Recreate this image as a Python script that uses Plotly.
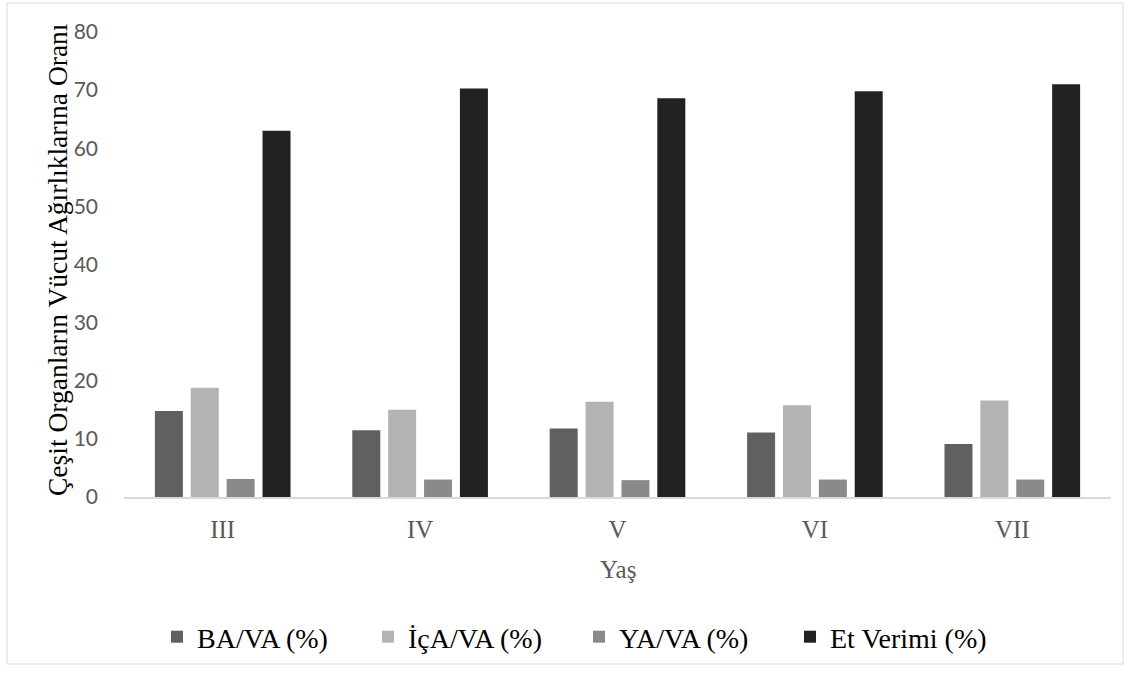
import plotly.graph_objects as go

categories = ["III", "IV", "V", "VI", "VII"]
ba_va = [14.8, 11.5, 11.8, 11.1, 9.1]
ica_va = [18.8, 15.0, 16.4, 15.8, 16.6]
ya_va = [3.1, 3.0, 2.9, 3.0, 3.0]
et_verimi = [63.0, 70.3, 68.6, 69.8, 71.0]

series_names = ["BA/VA (%)", "İçA/VA (%)", "YA/VA (%)", "Et Verimi (%)"]
series_values = [ba_va, ica_va, ya_va, et_verimi]
series_colors = ["#606060", "#b3b3b3", "#8a8a8a", "#222222"]
y_ticks = [0, 10, 20, 30, 40, 50, 60, 70, 80]

# body margin is removed by post_script, so figure pixels == window pixels
W, H = 1133, 675
PX0, PX1 = 124, 1111
PY0, PY1 = 32, 497
ML, MR = PX0, W - PX1
MT, MB = PY0, H - PY1
pw = PX1 - PX0
ph = PY1 - PY0

def px_x(x):
    return (x - PX0) / pw

def px_y(y):
    return (PY1 - y) / ph

fig = go.Figure()
for name, vals, col in zip(series_names, series_values, series_colors):
    fig.add_trace(go.Bar(x=categories, y=vals, name=name,
                         marker=dict(color=col, line=dict(width=0))))

serif = "Liberation Serif, Times New Roman, serif"
fig.update_layout(
    width=W, height=H,
    margin=dict(l=ML, r=MR, t=MT, b=MB, autoexpand=False),
    paper_bgcolor="white", plot_bgcolor="white",
    barmode="group", bargap=0.273, bargroupgap=0.22,
    showlegend=True,
    legend=dict(orientation="h", x=px_x(157), xanchor="left",
                y=px_y(637), yanchor="middle",
                entrywidth=166, entrywidthmode="pixels",
                font=dict(family=serif, size=28, color="#000000"),
                itemsizing="constant", traceorder="normal"),
    xaxis=dict(showline=True, linecolor="#d9d9d9", linewidth=1.5,
               showgrid=False, ticks="", ticklabelstandoff=9,
               tickfont=dict(family=serif, size=25, color="#595959")),
    yaxis=dict(range=[0, 80], tickvals=y_ticks, showgrid=False,
               showline=False, zeroline=False, ticks="",
               ticklabelstandoff=25,
               tickfont=dict(family="Lato, Open Sans, sans-serif", size=21, color="#595959")),
    annotations=[
        dict(text="Çeşit Organların Vücut Ağırlıklarına Oranı", textangle=-90,
             xref="paper", yref="paper", x=px_x(57), y=px_y(260),
             xanchor="center", yanchor="middle", showarrow=False,
             font=dict(family=serif, size=27.5, color="#000000")),
        dict(text="Yaş", xref="paper", yref="paper", x=px_x(618), y=px_y(569),
             xanchor="center", yanchor="middle", showarrow=False,
             font=dict(family=serif, size=25, color="#595959")),
    ],
    shapes=[dict(type="rect", xref="paper", yref="paper",
                 x0=px_x(7), x1=px_x(1123), y0=px_y(664), y1=px_y(3),
                 line=dict(color="#d9d9d9", width=1), layer="below")],
)

fig.write_html("out.html", config={"displayModeBar": False},
               post_script="document.body.style.margin='0px';document.body.style.overflow='hidden';")
